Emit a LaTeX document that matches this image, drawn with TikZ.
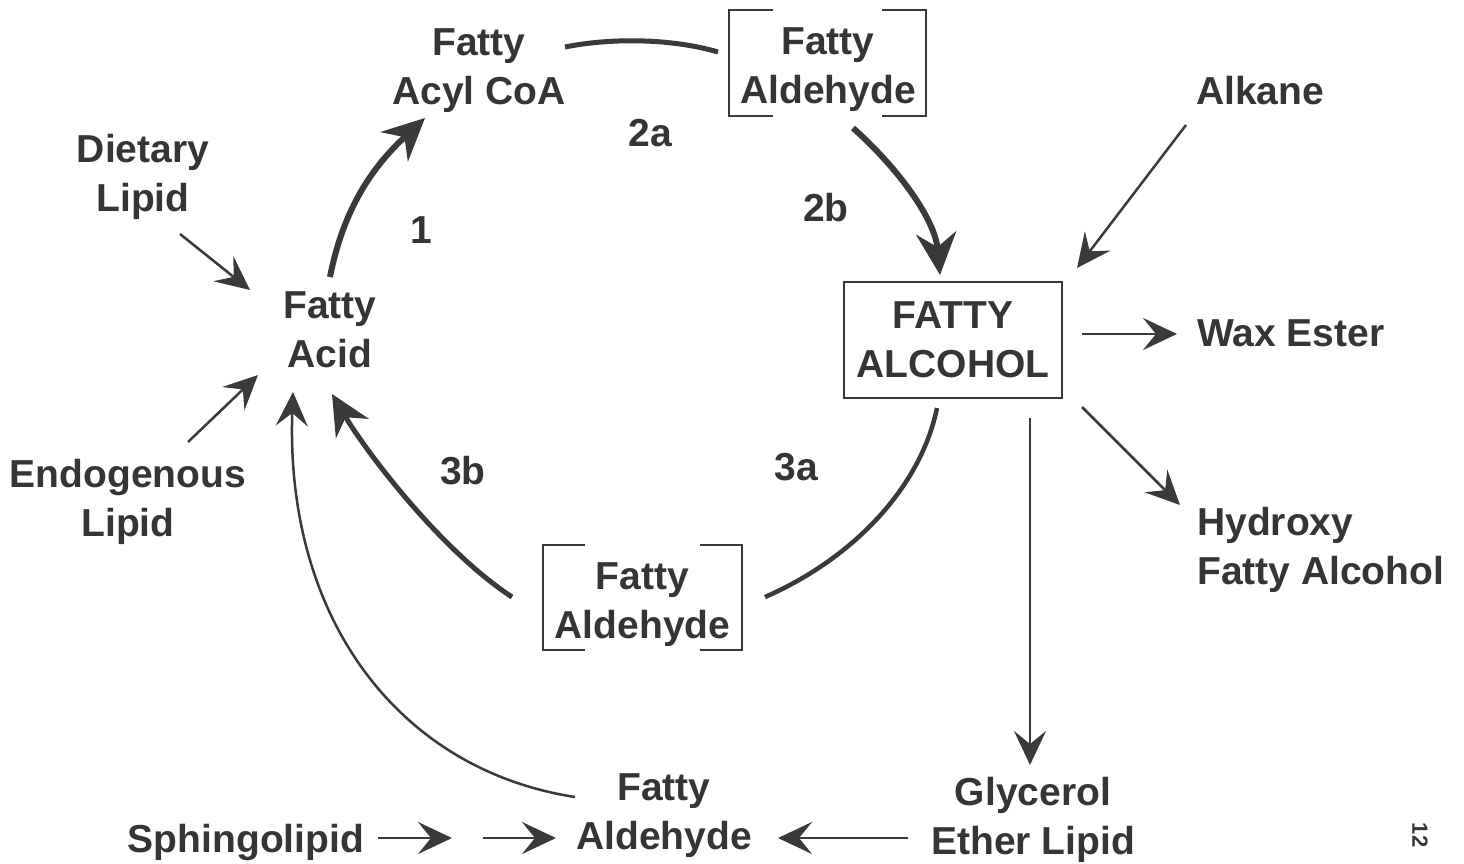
\documentclass[tikz,border=0pt]{standalone}
\usepackage{fontspec}
\setmainfont{Liberation Sans}
\usetikzlibrary{arrows.meta,calc}
\definecolor{ink}{HTML}{353535}
\definecolor{wire}{HTML}{3A3A3A}
\begin{document}
\begin{tikzpicture}[x=1pt,y=-1pt,
  lbl/.style={font=\fontsize{39}{49}\selectfont\bfseries, text=ink, inner sep=0pt, align=center},
  lblL/.style={lbl, align=left, anchor=west},
  boxed/.style={lbl, draw=wire, line width=2pt, minimum width=218pt, minimum height=116pt},
  bracket/.style={draw=wire, line width=2pt},
  big/.style={draw=wire, line width=6pt, -{Stealth[length=42pt,width=40pt,inset=14pt]}},
  mid/.style={draw=wire, line width=5pt, -{Stealth[length=40pt,width=38pt,inset=13pt]}},
  thin/.style={draw=wire, line width=2.5pt, -{Stealth[length=34pt,width=32pt,inset=13pt]}},
  hair/.style={draw=wire, line width=1.6pt, -{Stealth[length=34pt,width=32pt,inset=13pt]}},
  plain/.style={draw=wire, line width=5pt}]
\useasboundingbox (0,0) rectangle (1464,864);
\fill[white] (0,0) rectangle (1464,864);

% nodes
\node[lbl] (fac) at (479,71) {Fatty\\Acyl CoA};
\node[lbl] (ald1) at (828,69.5) {Fatty\\Aldehyde};
\node[lbl] (alk) at (1260,91) {Alkane};
\node[lbl] (diet) at (143,177) {Dietary\\Lipid};
\node[lbl] (fa) at (330,330) {Fatty\\Acid};
\node[boxed] (alc) at (953,340) {FATTY\\ALCOHOL};
\node[lblL] (wax) at (1197,333) {Wax Ester};
\node[lbl] (endo) at (128,501.5) {Endogenous\\Lipid};
\node[lblL] (hyd) at (1197,550) {Hydroxy\\Fatty Alcohol};
\node[lbl] (ald2) at (642.5,605) {Fatty\\Aldehyde};
\node[lbl] (ald3) at (664,816) {Fatty\\Aldehyde};
\node[lbl] (gly) at (1033,819.5) {Glycerol\\Ether Lipid};
\node[lbl] (sph) at (246,842) {Sphingolipid};
\node[lbl] (l2a) at (650,133) {2a};
\node[lbl] (l1) at (421,230) {1};
\node[lbl] (l2b) at (826,208) {2b};
\node[lbl] (l3b) at (463,471) {3b};
\node[lbl] (l3a) at (796,467) {3a};
\node[font=\fontsize{22}{22}\selectfont\bfseries, text=ink, rotate=-90, inner sep=0pt] (pg) at (1420,835) {12};

% brackets round the two boxed aldehydes
\draw[bracket] ($(ald1.center)+(-55,-59.5)$) -- ++(-44,0) -- ++(0,106) -- ++(44,0);
\draw[bracket] ($(ald1.center)+(54,-59.5)$) -- ++(44,0) -- ++(0,106) -- ++(-44,0);
\draw[bracket] ($(ald2.center)+(-57.5,-60)$) -- ++(-42,0) -- ++(0,105) -- ++(42,0);
\draw[bracket] ($(ald2.center)+(57.5,-60)$) -- ++(42,0) -- ++(0,105) -- ++(-42,0);

% gap between the two sphingolipid arrows
\coordinate (gapL) at (452,838);
\coordinate (gapR) at (483,838);

% connectors
\draw[big] ($(fa.center)+(0,-53)$) .. controls (345,200) and (380,160) .. ($(fac.center)+(-54,47)$);
\draw[plain] ($(fac.center)+(86,-24)$) .. controls (610,38) and (670,38) .. ($(ald1.center)+(-110,-17.5)$);
\draw[big] ($(ald1.center)+(25,58.5)$) .. controls (900,170) and (935,220) .. ($(alc.center)+(-13,-65)$);
\draw[thin] ($(alk.center)+(-74,34)$) -- ($(alc.center)+(124,-72)$);
\draw[thin] ($(diet.center)+(37,57)$) -- ($(fa.center)+(-80,-40)$);
\draw[thin] ($(endo.center)+(60,-59.5)$) -- ($(fa.center)+(-72,45)$);
\draw[thin] ($(alc.center)+(129,-6)$) -- ($(wax.west)+(-20,1)$);
\draw[thin] ($(alc.center)+(129,67)$) -- ($(hyd.west)+(-17,-45)$);
\draw[hair] ($(alc.center)+(77,78)$) -- ($(gly.center)+(-3,-54.5)$);
\draw[hair, line width=2pt] ($(gly.center)+(-125,18.5)$) -- ($(ald3.center)+(114,22)$);
\draw[thin] ($(sph.center)+(132,-4)$) -- (gapL);
\draw[thin] (gapR) -- ($(ald3.center)+(-108,22)$);
\draw[plain, line width=4.5pt] ($(alc.center)+(-16,68)$) .. controls (920,490) and (850,560) .. ($(ald2.center)+(122.5,-8)$);
\draw[mid] ($(ald2.center)+(-130.5,-8)$) .. controls (440,550) and (365,450) .. ($(fa.center)+(2,64)$);
\draw[thin] ($(ald3.center)+(-89,-19)$) .. controls (400,770) and (285,620) .. ($(fa.center)+(-37,62)$);
\end{tikzpicture}
\end{document}
